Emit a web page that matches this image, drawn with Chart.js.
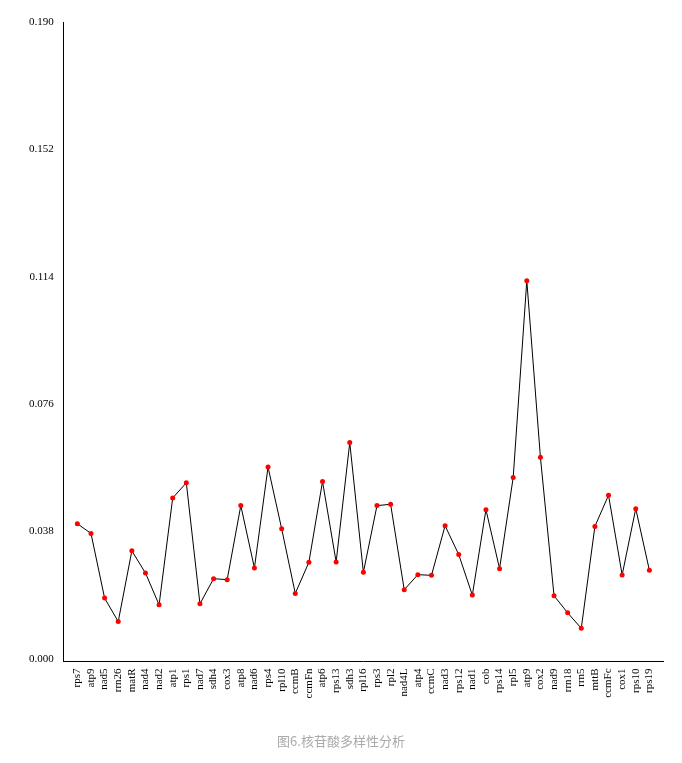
<!DOCTYPE html>
<html>
<head>
<meta charset="utf-8">
<title>核苷酸多样性分析</title>
<script src="https://cdn.jsdelivr.net/npm/chart.js@4/dist/chart.umd.min.js"></script>
<style>
    html, body { margin: 0; padding: 0; background: #fff; }
    #wrap { width: 682px; height: 763px; position: relative; }
</style>
</head>
<body>
<div id="wrap"><canvas id="pi-chart"></canvas></div>
<script>
// Gene names along the x axis (atp9 appears twice in the source figure)
const genes = [
    'rps7', 'atp9', 'nad5', 'rrn26', 'matR', 'nad4', 'nad2', 'atp1', 'rps1', 'nad7',
    'sdh4', 'cox3', 'atp8', 'nad6', 'rps4', 'rpl10', 'ccmB', 'ccmFn', 'atp6', 'rps13',
    'sdh3', 'rpl16', 'rps3', 'rpl2', 'nad4L', 'atp4', 'ccmC', 'nad3', 'rps12', 'nad1',
    'cob', 'rps14', 'rpl5', 'atp9', 'cox2', 'nad9', 'rrn18', 'rrn5', 'mttB', 'ccmFc',
    'cox1', 'rps10', 'rps19'
];

// Nucleotide diversity (Pi) per gene
const piValues = [
    0.0403, 0.0374, 0.0181, 0.0111, 0.0322, 0.0256, 0.0161, 0.0480, 0.0525, 0.0164,
    0.0239, 0.0236, 0.0457, 0.0271, 0.0572, 0.0388, 0.0195, 0.0288, 0.0529, 0.0289,
    0.0645, 0.0258, 0.0457, 0.0461, 0.0206, 0.0251, 0.0249, 0.0397, 0.0311, 0.0190,
    0.0445, 0.0269, 0.0541, 0.1128, 0.0601, 0.0188, 0.0137, 0.0091, 0.0395, 0.0488,
    0.0250, 0.0448, 0.0264
];

// Y axis tick labels
const yTicks = [0, 0.038, 0.076, 0.114, 0.152, 0.190];

const chartTitle = '图6.核苷酸多样性分析';

const serif = '"Liberation Serif", "Times New Roman", serif';

const points = piValues.map((v, i) => ({ x: i, y: v }));

const ctx = document.getElementById('pi-chart');

new Chart(ctx, {
    type: 'line',
    data: {
        datasets: [{
            data: points,
            borderColor: '#000',
            borderWidth: 1,
            tension: 0,
            pointRadius: 2.5,
            pointBackgroundColor: '#ff0000',
            pointBorderColor: '#ff0000',
            pointBorderWidth: 0,
            fill: false
        }]
    },
    options: {
        responsive: true,
        maintainAspectRatio: false,
        animation: false,
        layout: {
            padding: { left: 19, right: 19, top: 22, bottom: 0 }
        },
        plugins: {
            legend: { display: false },
            tooltip: { enabled: false },
            title: {
                display: true,
                text: chartTitle,
                position: 'bottom',
                color: '#aaaaaa',
                font: { family: '"Noto Sans CJK SC", sans-serif', size: 13, weight: 'normal' },
                padding: { top: 28, bottom: 14 }
            }
        },
        scales: {
            x: {
                type: 'linear',
                min: -1,
                max: genes.length,
                grid: { display: false, drawTicks: false },
                border: { display: true, color: '#000', width: 1 },
                afterBuildTicks: (axis) => {
                    axis.ticks = genes.map((g, i) => ({ value: i }));
                },
                ticks: {
                    autoSkip: false,
                    minRotation: 90,
                    maxRotation: 90,
                    padding: 7,
                    color: '#000',
                    font: { family: serif, size: 11 },
                    callback: (value) => genes[value]
                }
            },
            y: {
                min: -0.0008,
                max: 0.190,
                grid: { display: false, drawTicks: false },
                border: { display: true, color: '#000', width: 1 },
                afterBuildTicks: (axis) => {
                    axis.ticks = yTicks.map(v => ({ value: v }));
                },
                ticks: {
                    padding: 10,
                    color: '#000',
                    font: { family: serif, size: 11 },
                    callback: (value) => value.toFixed(3)
                }
            }
        }
    }
});
</script>
</body>
</html>
